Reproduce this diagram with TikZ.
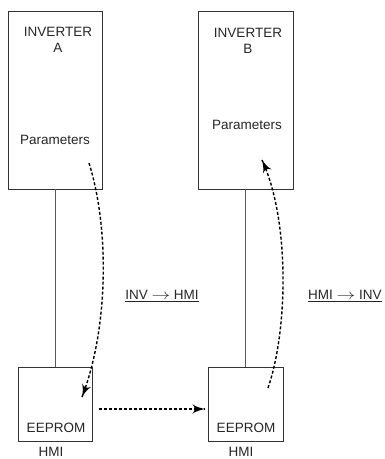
\documentclass[tikz,border=0pt]{standalone}
\usepackage{fontspec}
\setmainfont{Liberation Sans}
\usepackage{tikz}
\usetikzlibrary{arrows}
\usetikzlibrary{decorations.markings}
\usetikzlibrary{positioning}
\tikzset{flow/.style = {densely dashed, line width = 1.4pt,
                        decoration={markings,
                                    mark=at position 1 with {\arrow[scale=1.8]{latex'}}},
                        postaction={decorate}}}
\tikzset{unit/.style = {draw, black!80, line width = 0.8pt, inner sep = 0}}
\tikzset{link/.style = {black!65, line width = 0.8pt}}
\tikzset{lbl/.style = {text=black!85, inner sep = 0, font=\fontsize{13.5}{15.5}\selectfont}}
\newcommand{\dirarrow}{\scalebox{1.3}[1]{$\rightarrow$}}

\begin{document}
\begin{tikzpicture}[x=1pt, y=-1pt]
    \useasboundingbox (0, 0) rectangle (385, 459);

    \node [unit, minimum width = 94, minimum height = 178] (invA) at (55, 100) {};
    \node [unit, minimum width = 95, minimum height = 178] (invB) at (245.5, 100) {};
    \node [unit, minimum width = 74, minimum height = 74] (eepA) at (55, 404) {};
    \node [unit, minimum width = 75, minimum height = 74] (eepB) at (245.5, 404) {};

    \node [lbl, align=center] (nameA) at (58, 40) {INVERTER\\A};
    \node [lbl, align=center] (nameB) at (248, 41) {INVERTER\\B};
    \node [lbl] (parA) at (55, 140) {Parameters};
    \node [lbl] (parB) at (247, 125) {Parameters};
    \node [lbl] (romA) at (56, 428) {EEPROM};
    \node [lbl] (romB) at (246, 428) {EEPROM};
    \node [lbl] (hmiA) at (51, 452) {HMI};
    \node [lbl] (hmiB) at (241, 452) {HMI};
    \node [lbl] (toHmi) at (162, 296) {\underline{INV \dirarrow{} HMI}};
    \node [lbl, anchor=west] (toInv) at (308, 296) {\underline{HMI \dirarrow{} INV}};

    \draw [link] (invA) -- (eepA);
    \draw [link] (invB) -- (eepB);

    \coordinate (outA) at (89, 163);
    \coordinate (inA) at (82, 397);
    \coordinate (outB) at (268, 388);
    \coordinate (inB) at (262, 160);
    \coordinate (sendA) at (99, 409);
    \coordinate (sendB) at (205, 409);

    \draw [flow] (outA) .. controls (110, 230) and (108, 330) .. (inA);
    \draw [flow] (sendA) -- (sendB);
    \draw [flow] (outB) .. controls (288, 330) and (290, 220) .. (inB);
\end{tikzpicture}
\end{document}
